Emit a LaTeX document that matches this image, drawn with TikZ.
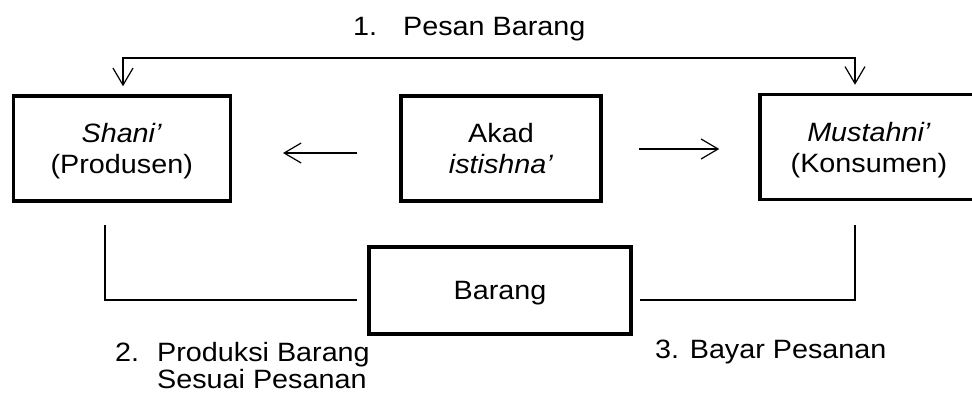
\documentclass[tikz,border=0pt]{standalone}
\usepackage{fontspec}
\setmainfont[FakeStretch=1.085]{Liberation Sans}
\usetikzlibrary{arrows.meta,calc}

\tikzset{
  party/.style={draw, line width=3.5pt, minimum width=217pt, minimum height=105pt,
    align=center, text depth=0pt, inner sep=0pt},
  goods/.style={draw, line width=3.5pt, minimum width=262pt, minimum height=87pt,
    text depth=0pt, inner sep=0pt},
  flow/.style={line width=1.2pt},
  barb/.style={flow, -{Straight Barb[length=17pt, width=20pt]}},
  barbs/.style={flow, {Straight Barb[length=17pt, width=20pt]}-{Straight Barb[length=17pt, width=20pt]}},
  note/.style={inner sep=0pt, anchor=base west},
}

\begin{document}
\begin{tikzpicture}[x=1pt, y=-1pt,
  every node/.append style={font=\fontsize{26.5}{31}\selectfont}]
  \fill[white] (0,0) rectangle (972,394);
  \path[use as bounding box, clip] (0,0) rectangle (972,394);

  % the three parties of the contract and the goods
  \node[party] (prod) at (121.75,148.5) {\textit{Shani’}\\(Produsen)};
  \node[party, minimum width=200pt] (akad) at (501,148.5) {Akad\\\textit{istishna’}};
  \node[party, minimum width=218pt] (kons) at (869,147) {\textit{Mustahni’}\\(Konsumen)};
  \node[goods] (brg) at (500,290.5) {Barang};

  % 1. order: from the top line down to both parties
  \coordinate (tl) at (123,58);
  \coordinate (tr) at (855,58);
  \draw[barbs, shorten <=8pt, shorten >=8pt]
    (prod.north -| tl) -- (tl) -- (tr) -- (kons.north -| tr);

  % the contract binds both sides
  \draw[barb] ($(akad.west)+(-42,4.5)$) -- ($(prod.east)+(51,4.5)$);
  \draw[barb] ($(akad.east)+(36,0.5)$) -- ($(kons.west)+(-39,2)$);

  % 2. production and 3. payment, joined at the goods
  \draw[flow] ($(prod.south)+(-16.75,22)$) |- ($(brg.west)+(-10,9.5)$);
  \draw[flow] ($(brg.east)+(7,9.5)$) -| ($(kons.south)+(-14,24)$);

  % step labels
  \node[note] (l1) at (353,35) {\makebox[50pt][l]{1.}Pesan Barang};
  \node[note] (l2) at (115,361) {\makebox[42pt][l]{2.}Produksi Barang};
  \node[note] (l2b) at (157,388) {Sesuai Pesanan};
  \node[note] (l3) at (655,358) {3. Bayar Pesanan};
\end{tikzpicture}
\end{document}
